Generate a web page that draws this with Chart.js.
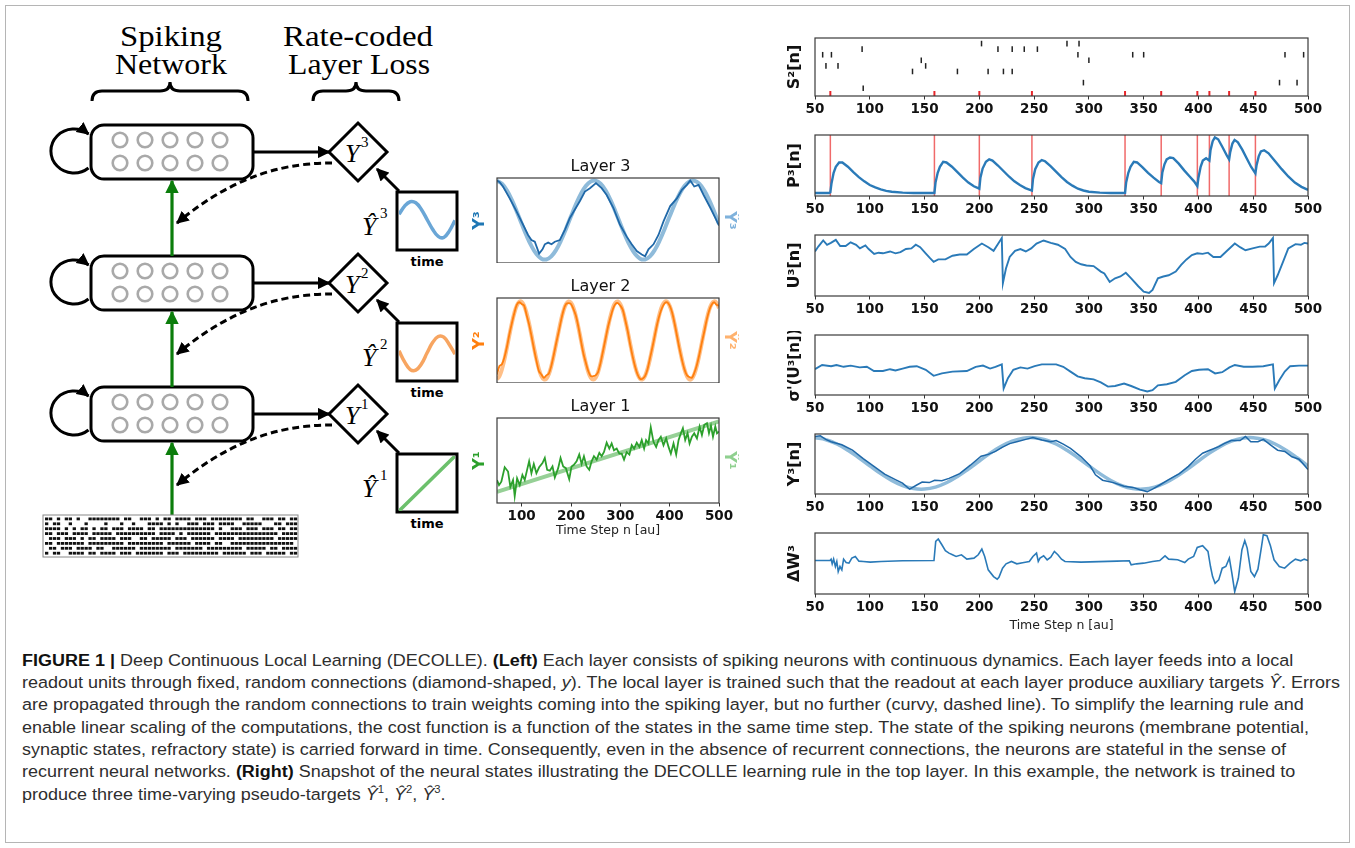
<!DOCTYPE html>
<html><head><meta charset="utf-8">
<script src="https://cdn.jsdelivr.net/npm/chart.js@4.4.0/dist/chart.umd.min.js"></script>
<style>
html,body{margin:0;padding:0;background:#fff;}
#page{position:relative;width:1355px;height:848px;overflow:hidden;background:#fff;}
canvas.c{position:absolute;}
svg{position:absolute;left:0;top:0;}
.cap{position:absolute;left:22px;white-space:nowrap;font-family:"Liberation Sans",Arial,sans-serif;font-size:16.8px;line-height:18px;color:#2e2e2e;transform-origin:0 0;}
.cap b{color:#111;}
.cap sup{font-size:10.5px;line-height:0;}
</style></head><body><div id="page">
<svg width="1355" height="848" viewBox="0 0 1355 848">
<defs>
<marker id="ah" viewBox="0 0 10 10" refX="9" refY="5" markerWidth="4.2" markerHeight="4.2" orient="auto"><path d="M0,0 L10,5 L0,10 z" fill="#000"/></marker>
<marker id="ahg" viewBox="0 0 10 10" refX="9" refY="5" markerWidth="4.2" markerHeight="4.2" orient="auto"><path d="M0,0 L10,5 L0,10 z" fill="#0b7d0b"/></marker>
</defs>
<rect x="5.5" y="5.5" width="1344" height="837" fill="none" stroke="#b5b5b5" stroke-width="1"/>
<g font-family="'Liberation Serif',serif" font-size="29" fill="#000" text-anchor="middle">
<text x="171" y="46" textLength="102" lengthAdjust="spacingAndGlyphs">Spiking</text>
<text x="171" y="74" textLength="112" lengthAdjust="spacingAndGlyphs">Network</text>
<text x="358" y="46" textLength="150" lengthAdjust="spacingAndGlyphs">Rate-coded</text>
<text x="359" y="74" textLength="142" lengthAdjust="spacingAndGlyphs">Layer Loss</text>
</g>
<g fill="none" stroke="#000" stroke-width="3">
<path d="M92,101 Q92,91 102,91 L160,91 Q170,91 170,82 Q170,91 180,91 L238,91 Q248,91 248,101"/>
<path d="M313,101 Q313,91 323,91 L346,91 Q356,91 356,82 Q356,91 366,91 L389,91 Q399,91 399,101"/>
</g>
<g id="layers"></g>
<g stroke="#0b7d0b" stroke-width="3.2" fill="none">
<path d="M172,256 L172,181" marker-end="url(#ahg)"/>
<path d="M172,387 L172,312" marker-end="url(#ahg)"/>
<path d="M172,515 L172,443" marker-end="url(#ahg)"/>
</g>
<rect x="43" y="515" width="255" height="42" fill="#fff" stroke="#888" stroke-width="1"/>
<g id="raster" fill="#111"></g>
</svg>
</div>
<script>
// ---------------- data ----------------
const X_MIN = 50, X_MAX = 500;
const rightTicks = [50,100,150,200,250,300,350,400,450,500];
const midTicks = [100,200,300,400,500];
const tenSteps = [50,60,70,80,90,100,110,120,130,140,150,160,170,180,190,200,210,220,230,240,250,260,270,280,290,300,310,320,330,340,350,360,370,380,390,400,410,420,430,440,450,460,470,480,490,500];
const fiveSteps = [50,55,60,65,70,75,80,85,90,95,100,105,110,115,120,125,130,135,140,145,150,155,160,165,170,175,180,185,190,195,200,205,210,215,220,225,230,235,240,245,250,255,260,265,270,275,280,285,290,295,300,305,310,315,320,325,330,335,340,345,350,355,360,365,370,375,380,385,390,395,400,405,410,415,420,425,430,435,440,445,450,455,460,465,470,475,480,485,490,495,500];

// S2[n] raster: spike times and neuron rows (row 0 = red output spikes)
const s2Times = [202,280,291, 93,217,230,241,253, 57,65,290,340,350,479,496, 147,300, 60,71,151, 139,180,208,222,230, 295,474,490, 94];
const s2Rows  = [9,9,9, 8,8,8,8,8, 7,7,7,7,7,7,7, 6,6, 5,5,5, 4,4,4,4,4, 2,2,2, 1];
const outSpikes = [64,159,200,248,333,366,399,410,428,452];

const p3 = [[50,0.05],[63,0.05],[64,0.06],[65,0.2],[67,0.38],[69,0.48],[72,0.55],[75,0.55],[80,0.48],[85,0.39],[90,0.31],[95,0.24],[100,0.18],[105,0.14],[110,0.11],[115,0.085],[120,0.07],[130,0.055],[140,0.05],[159,0.05],[160,0.22],[162,0.38],[164,0.48],[167,0.56],[170,0.55],[175,0.48],[180,0.39],[185,0.3],[190,0.22],[195,0.16],[200,0.12],[201,0.3],[203,0.45],[206,0.56],[209,0.6],[212,0.58],[217,0.5],[222,0.41],[227,0.32],[232,0.24],[237,0.18],[242,0.13],[248,0.09],[249,0.28],[251,0.44],[254,0.55],[257,0.59],[260,0.57],[265,0.49],[270,0.4],[275,0.31],[280,0.23],[285,0.17],[290,0.12],[295,0.09],[300,0.07],[310,0.055],[320,0.05],[333,0.05],[334,0.22],[336,0.38],[338,0.48],[341,0.56],[344,0.55],[349,0.47],[354,0.38],[359,0.3],[364,0.23],[366,0.21],[367,0.38],[369,0.52],[371,0.6],[374,0.63],[377,0.62],[382,0.53],[387,0.42],[392,0.32],[396,0.24],[399,0.16],[400,0.3],[402,0.48],[404,0.58],[407,0.62],[410,0.58],[411,0.75],[413,0.9],[415,0.96],[418,0.93],[422,0.8],[426,0.66],[428,0.6],[429,0.72],[431,0.86],[433,0.92],[436,0.88],[440,0.76],[444,0.62],[448,0.48],[452,0.37],[453,0.5],[455,0.65],[457,0.73],[460,0.75],[464,0.7],[470,0.57],[476,0.44],[482,0.32],[488,0.22],[494,0.15],[500,0.1]];

const u3 = [[50,0.73],[53,0.81],[57.5,0.91],[61,0.84],[64.5,0.87],[69,0.92],[73,0.82],[78,0.82],[82.5,0.88],[87.5,0.84],[91,0.78],[96,0.83],[99,0.77],[104,0.69],[108,0.71],[112,0.70],[118.5,0.73],[123.5,0.70],[128,0.72],[133,0.77],[138,0.78],[142,0.84],[146,0.80],[151,0.70],[155,0.62],[158.3,0.56],[162.5,0.60],[169,0.60],[175.5,0.66],[182,0.68],[188.6,0.68],[195,0.77],[202.3,0.86],[208.2,0.80],[213,0.74],[217.3,0.86],[220.5,0.95],[221.5,0.21],[224.3,0.45],[227.7,0.64],[232.6,0.74],[237.5,0.77],[242.4,0.73],[247.3,0.78],[252.2,0.86],[258.7,0.91],[265.2,0.87],[271.7,0.84],[278.3,0.77],[283.2,0.64],[288,0.56],[292.9,0.52],[297.8,0.50],[304.3,0.49],[310.9,0.40],[314.1,0.37],[319,0.23],[323.9,0.29],[328.8,0.32],[333.7,0.38],[338.6,0.29],[345.1,0.16],[350,0.07],[354.9,0.05],[358.1,0.10],[363,0.29],[367.9,0.32],[372.8,0.34],[379.3,0.40],[384.2,0.51],[389.1,0.60],[394,0.67],[398.9,0.70],[403.8,0.69],[408.7,0.71],[413.6,0.64],[420.1,0.64],[426.6,0.75],[433.2,0.86],[438,0.80],[442.9,0.75],[449.4,0.78],[456,0.81],[460.9,0.81],[464.1,0.86],[468,0.95],[469,0.21],[472.3,0.34],[477.2,0.56],[482,0.78],[488.6,0.85],[493.5,0.84],[496.7,0.87],[500,0.86]];

const sigU3 = [[50,0.43],[56.5,0.50],[64.7,0.48],[69.6,0.50],[76.1,0.47],[82.6,0.49],[90.8,0.46],[97.3,0.47],[103.8,0.40],[112,0.40],[118.5,0.43],[123.4,0.41],[130,0.44],[136.4,0.47],[142.9,0.48],[151.1,0.42],[158.3,0.32],[165.8,0.36],[175.5,0.39],[188.6,0.40],[196.7,0.47],[203.3,0.49],[209.8,0.44],[214.7,0.47],[220.5,0.51],[222.2,0.11],[226.1,0.28],[231,0.42],[237.5,0.46],[244,0.44],[250.5,0.48],[257,0.51],[270.1,0.51],[276.6,0.47],[283.2,0.39],[289.7,0.31],[296.2,0.28],[304.3,0.26],[310.9,0.21],[317.4,0.14],[323.9,0.15],[332.1,0.19],[338.6,0.15],[346.7,0.09],[353.3,0.06],[358.1,0.08],[363,0.16],[371.2,0.18],[379.3,0.22],[387.5,0.33],[394,0.40],[400.5,0.42],[408.7,0.43],[415.2,0.36],[421.7,0.38],[428.3,0.46],[433.2,0.50],[441.3,0.47],[449.4,0.47],[459.2,0.48],[468,0.51],[469.7,0.11],[473.9,0.25],[478.8,0.39],[483.7,0.48],[491.8,0.49],[500,0.49]];

const y3Target = [0.938,0.905,0.833,0.729,0.604,0.470,0.339,0.226,0.140,0.090,0.082,0.115,0.187,0.291,0.416,0.550,0.681,0.794,0.880,0.930,0.938,0.905,0.833,0.729,0.604,0.470,0.339,0.226,0.140,0.090,0.082,0.115,0.187,0.291,0.416,0.550,0.681,0.794,0.880,0.930,0.938,0.905,0.833,0.729,0.604,0.470];
const y3Out = [[50,0.96],[54.9,0.97],[59.8,0.91],[64.7,0.87],[74.5,0.82],[84.2,0.73],[94,0.59],[103.8,0.46],[113.6,0.33],[123.4,0.24],[129.9,0.18],[136.4,0.08],[142.9,0.15],[147.8,0.20],[154.3,0.19],[159.2,0.23],[165.8,0.22],[172.3,0.26],[182.1,0.34],[191.8,0.48],[201.6,0.63],[208.2,0.66],[214.7,0.71],[221.2,0.78],[227.7,0.84],[234.2,0.87],[242.4,0.91],[248.9,0.94],[257.1,0.90],[265.2,0.87],[270.1,0.89],[276.6,0.83],[283.2,0.76],[292.9,0.62],[301.1,0.47],[306,0.32],[312.5,0.23],[322.3,0.19],[332.1,0.13],[340.2,0.11],[346.7,0.07],[353.3,0.04],[358.1,0.08],[364.7,0.15],[372.8,0.24],[382.6,0.34],[390.8,0.46],[397.3,0.58],[403.8,0.68],[410.3,0.73],[418.5,0.79],[423.4,0.84],[429.9,0.89],[438,0.89],[442.9,0.96],[447.8,0.87],[454.3,0.87],[459.2,0.91],[465.7,0.82],[472.3,0.73],[478.8,0.71],[485.3,0.62],[491.8,0.58],[500,0.41]];

const dW3 = [[50,0],[63.7,0],[64.7,0.04],[65.7,-0.10],[67,0.04],[68.6,-0.18],[69.9,-0.03],[71.2,-0.33],[72.8,-0.18],[74.5,-0.28],[76.1,0.04],[78.4,-0.06],[81,-0.08],[83.6,0.07],[86.8,0.12],[90.1,-0.02],[94,-0.03],[100.5,-0.05],[110.3,-0.03],[129.9,-0.01],[158.6,0],[160.2,0.57],[162.5,0.64],[165.8,0.47],[169,0.29],[172.3,0.22],[175.5,0.17],[178.8,0.12],[183.7,0.17],[188.6,0.04],[195.1,0.07],[199,0.17],[202.3,0.34],[204.9,0.12],[208.1,-0.28],[213,-0.48],[216.3,-0.56],[217.9,-0.50],[221.2,-0.23],[224.4,-0.10],[229.3,-0.03],[234.2,-0.10],[240.7,-0.06],[245.6,-0.03],[248.9,0.12],[252.2,0.22],[253.8,-0.03],[255.4,0.07],[258.7,0.14],[261.9,0.02],[265.2,0.10],[268.5,0.27],[271.7,0.17],[275,0.04],[278.2,-0.03],[292.9,-0.05],[325.5,-0.02],[336.9,-0.01],[338.6,-0.13],[343.5,-0.10],[350,-0.08],[358.1,-0.03],[364.7,0],[369.5,0.14],[372.8,0.04],[381,0.02],[387.5,-0.06],[390.7,0.04],[395.6,0.12],[398.9,0.39],[403.8,0.44],[408.7,0.27],[411,-0.18],[412.9,-0.48],[415.2,-0.68],[418.5,-0.58],[421.7,-0.23],[425,-0.18],[428.2,0.07],[430.5,-0.38],[433.1,-0.93],[436.4,-0.53],[439.7,0.32],[442.3,0.59],[444.5,0.37],[447.8,-0.33],[451.1,-0.48],[454.3,-0.26],[457.6,0.42],[459.2,0.77],[462.5,0.74],[465.7,0.44],[469,0.02],[473.8,-0.18],[478.7,-0.23],[483.6,-0.08],[488.5,0.04],[493.4,-0.01],[496.6,0.04],[500,0]];

// middle panels (values as fraction of panel height)
const layer3Target = [0.968,0.932,0.854,0.742,0.606,0.461,0.320,0.198,0.105,0.051,0.042,0.078,0.156,0.268,0.404,0.549,0.690,0.812,0.905,0.959,0.968,0.932,0.854,0.742,0.606,0.461,0.320,0.198,0.105,0.051,0.042,0.078,0.156,0.268,0.404,0.549,0.690,0.812,0.905,0.959,0.968,0.932,0.854,0.742,0.606,0.461];
const layer3Out = [[50,0.97],[55.4,0.95],[62.2,0.90],[75.8,0.76],[89.3,0.61],[102.9,0.45],[113,0.33],[119.8,0.27],[126.6,0.25],[135.4,0.11],[142.2,0.16],[146.9,0.22],[153.7,0.24],[160.5,0.22],[167.2,0.25],[177.4,0.27],[187.6,0.39],[197.7,0.53],[207.9,0.63],[218.1,0.73],[228.2,0.84],[238.4,0.88],[250.6,0.94],[262.1,0.88],[272.3,0.80],[285.8,0.65],[299.4,0.45],[312.9,0.31],[323.1,0.22],[333.3,0.14],[343.4,0.10],[350.2,0.08],[357,0.16],[367.2,0.22],[377.3,0.33],[387.5,0.49],[401.1,0.67],[414.6,0.76],[424.8,0.86],[434.9,0.92],[441.7,0.97],[449.8,0.90],[458.6,0.92],[468.8,0.80],[482.4,0.65],[492.5,0.53],[500,0.44]];
const layer2Target = [0.043,0.081,0.162,0.277,0.414,0.561,0.701,0.821,0.908,0.954,0.954,0.908,0.821,0.701,0.561,0.414,0.277,0.162,0.081,0.043,0.050,0.104,0.197,0.322,0.464,0.610,0.745,0.855,0.929,0.959,0.944,0.883,0.783,0.655,0.511,0.366,0.235,0.130,0.063,0.040,0.064,0.132,0.237,0.369,0.514,0.658,0.785,0.884,0.944,0.959,0.928,0.853,0.742,0.607,0.461,0.319,0.195,0.102,0.050,0.043,0.082,0.164,0.279,0.417,0.564,0.704,0.823,0.910,0.955,0.954,0.907,0.819,0.698,0.558,0.411,0.274,0.160,0.080,0.042,0.051,0.106,0.200,0.325,0.467,0.613,0.747,0.857,0.930,0.960,0.943,0.881];
const layer2Out = [0.10,0.20,0.22,0.30,0.42,0.57,0.70,0.82,0.92,0.95,0.93,0.91,0.80,0.69,0.55,0.40,0.26,0.14,0.10,0.06,0.09,0.11,0.20,0.33,0.47,0.60,0.74,0.86,0.93,0.94,0.93,0.87,0.79,0.66,0.50,0.35,0.24,0.14,0.08,0.08,0.09,0.13,0.24,0.38,0.52,0.66,0.77,0.87,0.93,0.94,0.91,0.86,0.74,0.61,0.45,0.31,0.19,0.10,0.05,0.05,0.08,0.16,0.29,0.42,0.56,0.70,0.81,0.89,0.94,0.95,0.91,0.83,0.70,0.55,0.40,0.27,0.16,0.09,0.07,0.06,0.12,0.21,0.33,0.47,0.60,0.74,0.85,0.92,0.95,0.92,0.91];
const layer1Target = [[50,0.13],[500,0.96]];
const layer1Out = [[50,0.27],[54.1,0.21],[58.8,0.25],[65.6,0.42],[72.4,0.37],[77.1,0.19],[82.5,0.27],[85.9,0.08],[90.7,0.29],[96.1,0.21],[101.5,0.33],[106.2,0.27],[111,0.39],[115.1,0.49],[119.8,0.35],[124.6,0.46],[129.9,0.35],[135.4,0.42],[142.2,0.47],[146.9,0.53],[151.7,0.39],[157.1,0.38],[162.5,0.43],[167.2,0.30],[174,0.41],[178.8,0.53],[184.2,0.43],[189.6,0.41],[196.4,0.28],[201.1,0.43],[205.9,0.45],[211.3,0.49],[216.7,0.57],[221.5,0.46],[226.2,0.55],[231.6,0.43],[237,0.39],[241.8,0.49],[246.5,0.55],[252,0.51],[257.4,0.59],[262.1,0.55],[266.9,0.60],[272.3,0.71],[277.7,0.64],[282.4,0.70],[287.2,0.62],[292.6,0.64],[298,0.58],[302.8,0.58],[307.5,0.51],[313,0.60],[318.4,0.57],[323.1,0.68],[327.9,0.64],[333.3,0.71],[338.7,0.66],[343.4,0.74],[348.2,0.64],[352.2,0.74],[357,0.70],[361.7,0.89],[367.2,0.72],[372.6,0.66],[377.3,0.74],[382.1,0.78],[387.5,0.68],[392.9,0.76],[397.7,0.66],[402.4,0.58],[407.8,0.70],[413.2,0.57],[418,0.74],[422.7,0.82],[426.8,0.88],[431.5,0.74],[436.3,0.82],[440.3,0.70],[445.1,0.78],[449.8,0.82],[455.3,0.76],[460.7,0.90],[465.4,0.80],[470.2,0.92],[475.6,0.94],[479.7,0.82],[483.7,0.91],[487.8,0.78],[492.5,0.90],[495.9,0.82],[500,0.84]];

// pseudo-target sketches inside the diagram boxes
const miniX = [0,0.1,0.2,0.3,0.4,0.5,0.6,0.7,0.8,0.9,1.0];
const mini3 = [0.63,0.78,0.86,0.84,0.72,0.54,0.36,0.23,0.21,0.33,0.52];
const mini2 = [0.53,0.33,0.19,0.18,0.29,0.49,0.68,0.79,0.78,0.64,0.47];
const mini1X = [0,1];
const mini1 = [0,1];

// input spike raster of the diagram (1 = spike in that time bin)
const inputRaster = [
"1101011010011111111011001110101101111011101111111101100111011011",
"1011001000100001000100100011110101001110111011110011111000110111",
"1111010101101011011101111011011111111111111010011101110111011011",
"1101110111101111101111111111011110101111110111111111111111101111",
"0111011101011011110111001101111101110111111011110111111111011111",
"1101111111011111111101111111110111111011110110011111111111111110",
"0110111011110110011111101111111101111111011111111101111101101111",
"1011001111011011110111011111110111011111111101111110111011111011"];

// ---------------- diagram ----------------
const NS = 'http://www.w3.org/2000/svg';
function el(tag, attrs, parent, text){ const e=document.createElementNS(NS,tag); for(const k in attrs) e.setAttribute(k,attrs[k]); if(text!==undefined) e.textContent=text; parent.appendChild(e); return e; }
const layersG = document.getElementById('layers');
[['3',0],['2',131],['1',262]].forEach(([lab,dy])=>{
  const g = el('g',{transform:`translate(0,${dy})`},layersG);
  el('path',{d:'M88.5,168 A23,22 0 1 1 88.5,134',fill:'none',stroke:'#000','stroke-width':3,'marker-end':'url(#ah)'},g);
  el('rect',{x:91,y:125,width:162,height:54,rx:13,fill:'#fff',stroke:'#000','stroke-width':3},g);
  [140,163].forEach(cy=>[120,145,170,195,220].forEach(cx=>el('circle',{cx,cy,r:7.3,fill:'none',stroke:'#a9a9a9','stroke-width':2.6},g)));
  el('path',{d:'M253,152 L329,152',stroke:'#000','stroke-width':3,'marker-end':'url(#ah)'},g);
  el('path',{d:'M332,163 C290,163 238,172 177,223',fill:'none',stroke:'#000','stroke-width':3,'stroke-dasharray':'7,4','marker-end':'url(#ah)'},g);
  el('polygon',{points:'329,152 358,123 387,152 358,181',fill:'#fff',stroke:'#000','stroke-width':3},g);
  el('text',{x:345,y:162,'font-family':"'Liberation Serif',serif",'font-style':'italic','font-size':26},g,'Y');
  el('text',{x:361,y:147,'font-family':"'Liberation Serif',serif",'font-size':15},g,lab);
  el('rect',{x:397,y:192,width:60,height:58,fill:'none',stroke:'#000','stroke-width':3},g);
  el('path',{d:'M399,191 L377,169',stroke:'#000','stroke-width':3,'marker-end':'url(#ah)'},g);
  el('text',{x:427,y:266,'text-anchor':'middle','font-family':"'DejaVu Sans',sans-serif",'font-weight':'bold','font-size':13},g,'time');
  el('text',{x:362,y:235,'font-family':"'Liberation Serif',serif",'font-style':'italic','font-size':26},g,'\u0176');
  el('text',{x:380,y:218,'font-family':"'Liberation Serif',serif",'font-size':15},g,lab);
});
const rg = document.getElementById('raster');
inputRaster.forEach((row,i)=>{ for(let j=0;j<row.length;j++){ if(row[j]==='1') el('rect',{x:45+j*3.95,y:517.5+i*4.9,width:3.3,height:2.8},rg); } });

// ---------------- charts ----------------
const page = document.getElementById('page');
const FONT = '"DejaVu Sans", sans-serif';
Chart.defaults.font.family = FONT;
const framePlugin = { id:'frame', afterDatasetsDraw(chart){ const a=chart.chartArea, c=chart.ctx; c.save(); c.strokeStyle='#3a3a3a'; c.lineWidth=1.2; c.strokeRect(a.left,a.top,a.right-a.left,a.bottom-a.top); c.restore(); } };
const pairs = arr => arr.map(p=>({x:p[0],y:p[1]}));
const zip = (xs,ys) => xs.map((x,i)=>({x,y:ys[i]}));

function panel(o){
  const titleH = o.title ? 19 : 0;
  const w = (o.R-o.L)+o.padL+o.padR, h = (o.B-o.T)+o.padT+titleH+o.padB;
  const cv = document.createElement('canvas'); cv.className='c';
  cv.width=w; cv.height=h;
  cv.style.left=(o.L-o.padL)+'px'; cv.style.top=(o.T-o.padT-titleH)+'px'; cv.style.width=w+'px'; cv.style.height=h+'px';
  page.appendChild(cv);
  const yfs = o.yFont||16;
  const scales = {
    x:{type:'linear',min:X_MIN,max:X_MAX,display:!!o.xTicks,
       afterBuildTicks:s=>{s.ticks=(o.xTicks||[]).map(v=>({value:v}));},
       afterFit:s=>{s.height=o.padB;},
       grid:{display:true,drawOnChartArea:false,drawTicks:true,tickLength:3.5,color:'#333',lineWidth:1},
       border:{display:false},
       ticks:{font:{family:FONT,size:13.5,weight:'bold',lineHeight:1.2},color:'#111',padding:1.5,maxRotation:0,autoSkip:false},
       title:o.xTitle?{display:true,text:o.xTitle,color:'#222',font:{family:FONT,size:12.5,lineHeight:1},padding:{top:0,bottom:o.xTitleOff-6.25}}:{display:false}},
    y:{min:o.yMin,max:o.yMax,afterFit:s=>{s.width=o.padL;},ticks:{display:false},grid:{display:false},border:{display:false},
       title:{display:true,text:o.yTitle,color:o.yColor||'#111',font:{family:FONT,size:yfs,weight:'bold',lineHeight:1},padding:{top:o.yOff-yfs/2,bottom:0}}}
  };
  if(o.y2Title){
    scales.y2={position:'right',min:o.yMin,max:o.yMax,afterFit:s=>{s.width=o.padR;},ticks:{display:false},grid:{display:false},border:{display:false},
       title:{display:true,text:o.y2Title,color:o.y2Color,font:{family:FONT,size:yfs,weight:'bold',lineHeight:1},padding:{top:o.y2Off-yfs/2,bottom:0}}};
  }
  new Chart(cv,{type:o.type||'line',data:{datasets:o.datasets},
    options:{responsive:false,animation:false,devicePixelRatio:1,
      layout:{padding:{top:o.padT,right:o.y2Title?0:o.padR,bottom:o.xTicks?0:o.padB,left:0}},
      plugins:{legend:{display:false},tooltip:{enabled:false},
        title:o.title?{display:true,text:o.title,color:'#111',font:{family:FONT,size:16,weight:'normal',lineHeight:1},padding:{top:0,bottom:3}}:{display:false}},
      elements:{point:{radius:0},line:{tension:0}},
      scales},
    plugins:[framePlugin]});
}

const BLUE='#2a7ab8', DBLUE='#1f68a8', LBLUE='#8fbbda', ORANGE='#ff7f0e', LORANGE='#ffbf87', GREEN='#2ca02c', LGREEN='#96d096', RED='#f06a6a';
const RP = {L:815,R:1308,padL:40,padR:22,padT:4,padB:26,xTicks:rightTicks,yOff:20};

// S2 raster
panel({...RP,T:36,B:96,yMin:-0.4,yMax:10,yTitle:'S²[n]',type:'scatter',datasets:[
  {data:zip(s2Times,s2Rows),pointStyle:'line',rotation:90,pointRadius:2.8,borderColor:'#222',borderWidth:1.5,showLine:false},
  {data:outSpikes.map(t=>({x:t,y:0})),pointStyle:'line',rotation:90,pointRadius:2.8,borderColor:'#e8262a',borderWidth:2,showLine:false}
]});
// P3
const redLines=[]; outSpikes.forEach(t=>{redLines.push({x:t,y:-0.1},{x:t,y:1.2},{x:t,y:null});});
panel({...RP,T:135,B:196,yMin:0,yMax:1,yTitle:'P³[n]',datasets:[
  {data:pairs(p3),borderColor:BLUE,borderWidth:2.4,order:1},
  {data:redLines,borderColor:RED,borderWidth:1.5,spanGaps:false,order:2}
]});
panel({...RP,T:235,B:296,yMin:0,yMax:1,yTitle:'U³[n]',datasets:[{data:pairs(u3),borderColor:BLUE,borderWidth:1.9}]});
panel({...RP,T:335,B:395,yMin:0,yMax:1,yTitle:"σ'(U³[n])",yFont:15,datasets:[{data:pairs(sigU3),borderColor:BLUE,borderWidth:1.9}]});
panel({...RP,T:434,B:494,yMin:0,yMax:1,yTitle:'Y³[n]',datasets:[
  {data:pairs(y3Out),borderColor:DBLUE,borderWidth:1.5,order:1},
  {data:zip(tenSteps,y3Target),borderColor:LBLUE,borderWidth:3.5,tension:0.4,order:2}
]});
panel({...RP,T:533,B:594,padB:42,xTitle:'Time Step n [au]',xTitleOff:10,yMin:-1,yMax:0.82,yTitle:'ΔW³',datasets:[{data:pairs(dW3),borderColor:BLUE,borderWidth:1.6}]});

// middle panels
const MP = {L:497,R:719,padL:35,padR:20,padT:0,padB:0,yOff:18,y2Off:10,yMin:0,yMax:1,yFont:16};
panel({...MP,T:178,B:263,title:'Layer 3',yTitle:'Y³',yColor:'#1f77b4',y2Title:'Ŷ³',y2Color:'#7fb2dc',datasets:[
  {data:pairs(layer3Out),borderColor:DBLUE,borderWidth:1.8,order:1},
  {data:zip(tenSteps,layer3Target),borderColor:LBLUE,borderWidth:4,tension:0.4,order:2}
]});
panel({...MP,T:298,B:383,title:'Layer 2',yTitle:'Y²',yColor:ORANGE,y2Title:'Ŷ²',y2Color:'#ffb26e',datasets:[
  {data:zip(fiveSteps,layer2Out),borderColor:ORANGE,borderWidth:1.8,tension:0.3,order:1},
  {data:zip(fiveSteps,layer2Target),borderColor:LORANGE,borderWidth:4,tension:0.4,order:2}
]});
panel({...MP,T:418,B:503,padB:40,title:'Layer 1',xTicks:midTicks,xTitle:'Time Step n [au]',xTitleOff:12,yTitle:'Y¹',yColor:GREEN,y2Title:'Ŷ¹',y2Color:'#8fd08f',datasets:[
  {data:pairs(layer1Out),borderColor:GREEN,borderWidth:1.8,order:1},
  {data:pairs(layer1Target),borderColor:LGREEN,borderWidth:4,order:2}
]});

// mini pseudo-target charts inside diagram boxes
function mini(top, xs, ys, color){
  const cv=document.createElement('canvas'); cv.className='c'; cv.width=56; cv.height=55;
  cv.style.left='399px'; cv.style.top=top+'px'; cv.style.width='56px'; cv.style.height='55px';
  page.appendChild(cv);
  new Chart(cv,{type:'line',data:{datasets:[{data:zip(xs,ys),borderColor:color,borderWidth:3.5,tension:0.4}]},
    options:{responsive:false,animation:false,devicePixelRatio:1,layout:{padding:0},
      plugins:{legend:{display:false},tooltip:{enabled:false}},elements:{point:{radius:0}},
      scales:{x:{type:'linear',min:0,max:1,display:false},y:{min:0,max:1,display:false}}}});
}
mini(193.5, miniX, mini3, '#6aa6d6');
mini(324.5, miniX, mini2, '#f7a561');
mini(455.5, mini1X, mini1, '#6cc06c');

// ---------------- caption ----------------
const capLines = [
 '<b>FIGURE 1 |</b> Deep Continuous Local Learning (DECOLLE). <b>(Left)</b> Each layer consists of spiking neurons with continuous dynamics. Each layer feeds into a local',
 'readout units through fixed, random connections (diamond-shaped, <i>y</i>). The local layer is trained such that the readout at each layer produce auxiliary targets <i>Ŷ</i>. Errors',
 'are propagated through the random connections to train weights coming into the spiking layer, but no further (curvy, dashed line). To simplify the learning rule and',
 'enable linear scaling of the computations, the cost function is a function of the states in the same time step. The state of the spiking neurons (membrane potential,',
 'synaptic states, refractory state) is carried forward in time. Consequently, even in the absence of recurrent connections, the neurons are stateful in the sense of',
 'recurrent neural networks. <b>(Right)</b> Snapshot of the neural states illustrating the DECOLLE learning rule in the top layer. In this example, the network is trained to',
 'produce three time-varying pseudo-targets <i>Ŷ</i><sup>1</sup>, <i>Ŷ</i><sup>2</sup>, <i>Ŷ</i><sup>3</sup>.'];
const capTops = [652,674,696,719,741,763,786];
const capEls = capLines.map((t,i)=>{ const d=document.createElement('div'); d.className='cap'; d.style.top=capTops[i]+'px'; d.innerHTML=t; page.appendChild(d); return d; });
const sx = 1318 / capEls[1].getBoundingClientRect().width;
capEls.forEach(d=>{ d.style.transform=`scaleX(${sx})`; });
</script>
</body></html>
